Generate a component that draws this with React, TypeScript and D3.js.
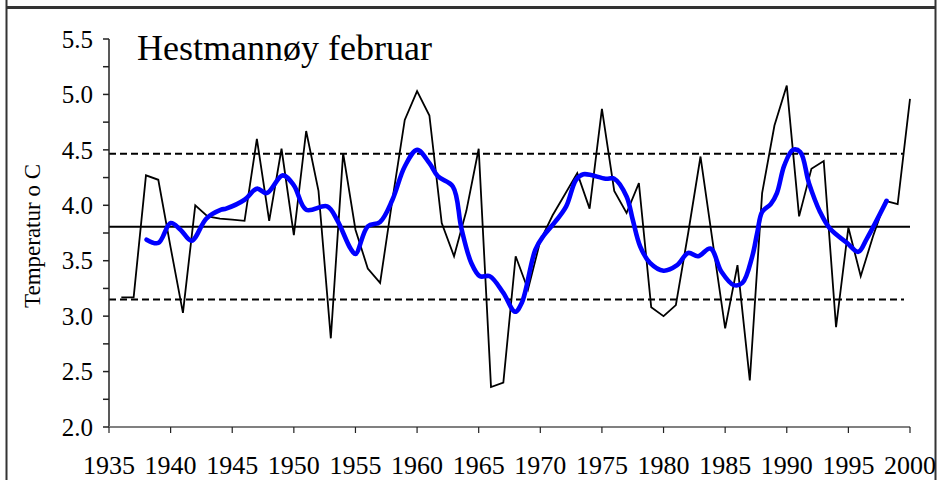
import React from "react";
import * as d3 from "d3";

const years = d3.range(1936, 2001);
const temps = [
  3.17, 3.17, 4.27, 4.23, 3.62, 3.03, 4.0, 3.9, 3.88, 3.87, 3.86, 4.6, 3.86, 4.51, 3.73,
  4.67, 4.13, 2.8, 4.47, 3.78, 3.43, 3.3, 4.05, 4.77, 5.03, 4.81, 3.84, 3.54, 3.95, 4.51,
  2.36, 2.4, 3.54, 3.24, 3.68, 3.91, 4.1, 4.29, 3.97, 4.87, 4.13, 3.93, 4.2, 3.08, 3.0,
  3.1, 3.75, 4.44, 3.66, 2.89, 3.46, 2.42, 4.11, 4.72, 5.08, 3.9, 4.33, 4.4, 2.9, 3.8,
  3.36, 3.72, 4.04, 4.01, 4.96,
];

const smoothYears = [
  1938.05, 1939, 1940, 1940.8, 1941.7, 1942.9, 1944.1, 1944.5, 1946, 1947, 1947.8, 1949.1,
  1950, 1951, 1952.7, 1953.5, 1954.6, 1955, 1956, 1957, 1958, 1959, 1960, 1961, 1961.7,
  1962.9, 1963.6, 1964.4, 1965.1, 1965.9, 1967, 1967.95, 1968.5, 1969.6, 1970.3, 1971.2,
  1972.1, 1972.9, 1973.5, 1975.3, 1976, 1977, 1977.5, 1978.1, 1978.9, 1980, 1981.1, 1982,
  1982.8, 1983.8, 1984.7, 1985.7, 1986.4, 1987.2, 1987.6, 1988, 1988.7, 1989.2, 1989.8,
  1990.5, 1991.1, 1991.8, 1992.7, 1993.5, 1994.9, 1995.8, 1996.5, 1998.1,
];
const smoothValues = [
  3.69, 3.66, 3.84, 3.78, 3.68, 3.88, 3.96, 3.97, 4.05, 4.15, 4.11, 4.27,
  4.18, 3.96, 3.99, 3.87, 3.61, 3.56, 3.81, 3.85, 4.05, 4.35, 4.5, 4.38, 4.26,
  4.17, 3.79, 3.48, 3.36, 3.36, 3.21, 3.04, 3.12, 3.6, 3.73, 3.85,
  3.99, 4.23, 4.28, 4.24, 4.24, 4.08, 3.87, 3.63, 3.48, 3.41, 3.46, 3.57,
  3.54, 3.61, 3.4, 3.28, 3.3, 3.54, 3.75, 3.94, 4.01, 4.11, 4.36,
  4.5, 4.48, 4.2, 3.94, 3.79, 3.66, 3.58, 3.7, 4.04,
];

const meanValue = 3.807;
const upperValue = 4.465;
const lowerValue = 3.15;

const xTicks = d3.range(1935, 2001, 5);
const yTicks = d3.range(2.0, 5.51, 0.25);
const yLabels = [2.0, 2.5, 3.0, 3.5, 4.0, 4.5, 5.0, 5.5];

const title = "Hestmannøy februar";
const yTitle = "Temperatur o C";

const serif = { fontFamily: '"Liberation Serif", "Times New Roman", serif' };

export default function App() {
  const W = 937;
  const H = 480;
  const left = 109;
  const right = 910;
  const top = 39;
  const bottom = 427;
  const x = d3.scaleLinear().domain([1935, 2000]).range([left, right]);
  const y = d3.scaleLinear().domain([2.0, 5.5]).range([bottom, top]);

  const rawLine = d3
    .line<number>()
    .x((_, i) => x(years[i]))
    .y((d) => y(d));
  const smoothLine = d3
    .line<number>()
    .x((_, i) => x(smoothYears[i]))
    .y((d) => y(d))
    .curve(d3.curveCatmullRom.alpha(0.5));

  return (
    <svg
      width={W}
      height={H}
      style={{ position: "absolute", left: 0, top: 0, background: "#fff" }}
    >
      <rect x={0} y={0} width={W} height={H} fill="#fff" />
      {/* frame */}
      <line x1={6.5} x2={6.5} y1={0} y2={H} stroke="#333" strokeWidth={2} />
      <line x1={935.5} x2={935.5} y1={0} y2={H} stroke="#333" strokeWidth={2} />
      <line x1={6} x2={936} y1={7.5} y2={7.5} stroke="#333" strokeWidth={3} />

      {/* reference lines */}
      <line x1={left} x2={right} y1={y(meanValue)} y2={y(meanValue)} stroke="#000" strokeWidth={2} />
      <line x1={left} x2={904} y1={y(upperValue)} y2={y(upperValue)} stroke="#000" strokeWidth={2.2} strokeDasharray="7,4" />
      <line x1={left} x2={904} y1={y(lowerValue)} y2={y(lowerValue)} stroke="#000" strokeWidth={2.2} strokeDasharray="7,4" />

      {/* data */}
      <path d={rawLine(temps) || ""} fill="none" stroke="#000" strokeWidth={1.8} />
      <path d={smoothLine(smoothValues) || ""} fill="none" stroke="#0000ff" strokeWidth={4.6} strokeLinejoin="round" strokeLinecap="round" />

      {/* y axis */}
      <line x1={left} x2={left} y1={top} y2={bottom} stroke="#222" strokeWidth={1.5} />
      {yTicks.map((t) => (
        <line key={"yt" + t} x1={left - 6} x2={left} y1={y(t)} y2={y(t)} stroke="#222" strokeWidth={1.5} />
      ))}
      {yLabels.map((t) => (
        <text key={"yl" + t} x={93} y={y(t)} dy="0.35em" textAnchor="end" fontSize={25} fill="#000" style={serif}>
          {t.toFixed(1)}
        </text>
      ))}

      {/* x axis */}
      <line x1={left} x2={right} y1={bottom} y2={bottom} stroke="#808080" strokeWidth={2} />
      {xTicks.map((t) => (
        <line key={"xt" + t} x1={x(t)} x2={x(t)} y1={bottom} y2={bottom + 6} stroke="#222" strokeWidth={1.2} />
      ))}
      {xTicks.map((t) => (
        <text key={"xl" + t} x={x(t)} y={474} textAnchor="middle" fontSize={26} fill="#000" style={serif}>
          {t}
        </text>
      ))}

      <text x={137} y={60} fontSize={36} fill="#000" style={serif}>
        {title}
      </text>
      <text
        transform={`translate(31.5, 236) rotate(-90)`}
        textAnchor="middle"
        dy="0.35em"
        fontSize={23}
        fill="#000"
        style={serif}
      >
        {yTitle}
      </text>
    </svg>
  );
}
